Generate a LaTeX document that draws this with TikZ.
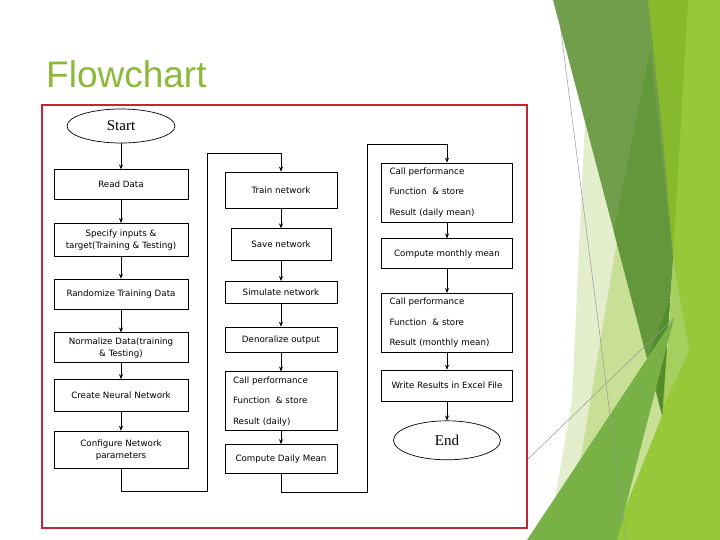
\documentclass[tikz,border=0pt]{standalone}
\usepackage{fontspec}
\usepackage{tikz}
\usetikzlibrary{shapes.geometric, arrows.meta, positioning, calc}
\newfontfamily\boxfont{DejaVu Sans}
\newfontfamily\ovalfont{Liberation Serif}
\newfontfamily\titlefont{Liberation Sans}
\definecolor{TitleGreen}{RGB}{140,186,56}
\definecolor{FrameRed}{RGB}{190,40,50}
\definecolor{LimeLight}{RGB}{150,200,58}
\definecolor{LimeDeep}{RGB}{135,185,45}
\definecolor{LimePale}{RGB}{165,208,95}
\definecolor{OliveGreen}{RGB}{112,158,74}
\definecolor{DeepGreen}{RGB}{100,150,60}
\definecolor{DarkGreen}{RGB}{84,140,42}
\definecolor{PaleGreen}{RGB}{228,238,205}
\definecolor{SoftGreen}{RGB}{200,224,150}
\definecolor{MidGreen}{RGB}{120,178,70}
\definecolor{LineGrey}{RGB}{150,150,150}

\begin{document}
\begin{tikzpicture}[
  x=1pt, y=-1pt,
  font=\boxfont\fontsize{8.7}{12}\selectfont,
  box/.style={rectangle, draw=black, line width=0.7pt, fill=white,
              minimum width=134pt, minimum height=30pt, align=center,
              inner sep=2pt},
  callbox/.style={box, align=left, inner xsep=8pt, minimum width=0pt,
                  minimum height=59pt,
                  font=\boxfont\fontsize{8.7}{20.5}\selectfont},
  ovalbox/.style={ellipse, draw=black, line width=0.7pt, fill=white,
                  minimum width=108pt, minimum height=34pt, inner sep=0pt,
                  font=\ovalfont\fontsize{15}{18}\selectfont},
  arrow/.style={-{Stealth[length=5pt, width=4pt]}, line width=0.7pt},
  guide/.style={LineGrey, line width=0.5pt},
]
\useasboundingbox (0,0) rectangle (720,540);

% facets on the right
\fill[LimeLight] (640,0) -- (720,0) -- (720,540) -- (612,540) -- (676,318) -- (673,258) -- cycle;
\fill[LimeDeep] (645,0) -- (688,0) -- (673,258) -- cycle;
\fill[LimePale] (673,258) -- (689,350) -- (664,405) -- cycle;
\fill[PaleGreen] (585,120) -- (662,415) -- (612,540) -- (548,540) -- (572,400) -- cycle;
\fill[SoftGreen] (617,241) -- (662,415) -- (612,540) -- (567,540) -- cycle;
\fill[OliveGreen] (553,0) -- (648,0) -- (663,140) -- (673,258) -- (662,415) -- cycle;
\fill[DeepGreen] (650,50) -- (673,258) -- (662,415) -- (614,232) -- cycle;
\fill[DarkGreen] (670,300) -- (662,415) -- (650,352) -- cycle;
\fill[MidGreen] (527,540) -- (674,318) -- (617,540) -- cycle;
\draw[guide] (557,0) -- (626,540);
\draw[guide] (527,460) -- (674,318);

\draw[draw=FrameRed, fill=white, line width=1.6pt] (42,105) rectangle (527,528);

\node[anchor=base west, text=TitleGreen, inner sep=0pt,
      font=\titlefont\fontsize{37}{40}\selectfont] (title) at (46,88) {Flowchart};

\node[ovalbox] (start) at (121,126) {Start};
\node[box, below=26pt of start] (read) {Read Data};
\node[box, below=23pt of read, minimum height=33pt] (specify) {Specify inputs \&\\target(Training \& Testing)};
\node[box, below=22pt of specify] (randomize) {Randomize Training Data};
\node[box, below=23pt of randomize] (normalize) {Normalize Data(training\\\& Testing)};
\node[box, below=16pt of normalize, minimum height=32pt] (create) {Create Neural Network};
\node[box, below=19pt of create, minimum height=37pt] (configure) {Configure Network\\parameters};

\node[box, minimum width=112pt, minimum height=36pt] (train) at (281,190) {Train network};
\node[box, minimum width=100pt, minimum height=32pt, below=20pt of train] (save) {Save network};
\node[box, minimum width=112pt, minimum height=22pt, below=20pt of save] (simulate) {Simulate network};
\node[box, minimum width=112pt, minimum height=25pt, below=23pt of simulate] (denormalize) {Denoralize output};
\node[callbox, text width=96pt, below=19pt of denormalize] (calldaily) {Call performance\\Function \ \& store\\Result (daily)};
\node[box, minimum width=112pt, minimum height=29pt, below=13pt of calldaily] (dailymean) {Compute Daily Mean};

\node[callbox, text width=115pt] (callmean) at (447,192.5) {Call performance\\Function \ \& store\\Result (daily mean)};
\node[box, minimum width=131pt, below=16pt of callmean] (monthly) {Compute monthly mean};
\node[callbox, text width=115pt, below=24pt of monthly] (callmonthly) {Call performance\\Function \ \& store\\Result (monthly mean)};
\node[box, minimum width=131pt, minimum height=31pt, below=17pt of callmonthly] (excel) {Write Results in Excel File};
\node[ovalbox, minimum width=107pt, minimum height=39pt, below=19pt of excel] (end) {End};

\coordinate (turnAlow) at (207,491);
\coordinate (turnAhigh) at (207,153);
\coordinate (turnBlow) at (367,492);
\coordinate (turnBhigh) at (367,144);

\draw[arrow] (start) -- (read);
\draw[arrow] (read) -- (specify);
\draw[arrow] (specify) -- (randomize);
\draw[arrow] (randomize) -- (normalize);
\draw[arrow] (normalize) -- (create);
\draw[arrow] (create) -- (configure);
\draw[arrow] (configure) |- (turnAlow) -- (turnAhigh) -| (train);

\draw[arrow] (train) -- (save);
\draw[arrow] (save) -- (simulate);
\draw[arrow] (simulate) -- (denormalize);
\draw[arrow] (denormalize) -- (calldaily);
\draw[arrow] (calldaily) -- (dailymean);
\draw[arrow] (dailymean) |- (turnBlow) -- (turnBhigh) -| (callmean);

\draw[arrow] (callmean) -- (monthly);
\draw[arrow] (monthly) -- (callmonthly);
\draw[arrow] (callmonthly) -- (excel);
\draw[arrow] (excel) -- (end);

\end{tikzpicture}
\end{document}
